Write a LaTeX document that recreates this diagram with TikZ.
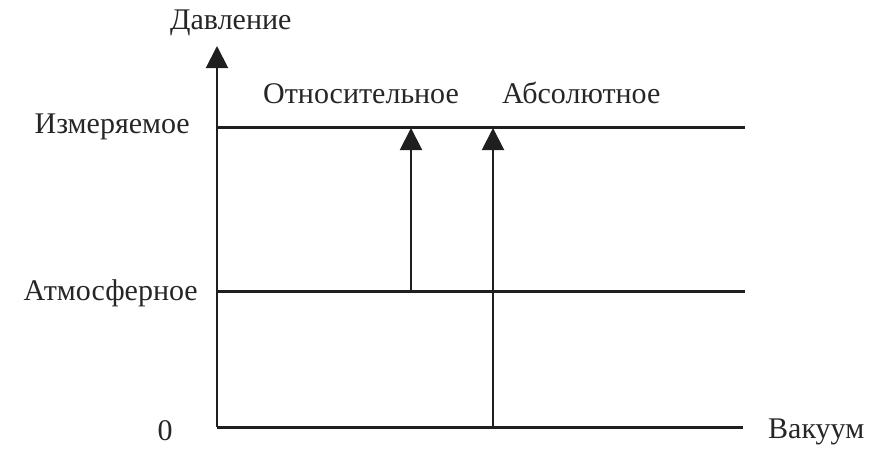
\documentclass[tikz,border=0pt]{standalone}
\usepackage{fontspec}
\setmainfont{Liberation Serif}
\usetikzlibrary{arrows.meta}
\colorlet{ecol}{black!88}
\tikzstyle{level}=[line width=3pt,ecol]
\tikzstyle{axis}=[line width=2pt,ecol,-{Triangle[length=22pt,width=22pt]}]
\tikzstyle{lab}=[font=\fontsize{30}{36}\selectfont,text=black!85,inner sep=0pt]

\begin{document}
\begin{tikzpicture}[x=1pt,y=-1pt]
			\useasboundingbox (0,0) rectangle (888,474);
			% axis and levels
			\coordinate (o)    at (217, 427);
			\coordinate (top)  at (217,  46);
			\coordinate (m0)   at (217, 127);
			\coordinate (m1)   at (745, 127);
			\coordinate (a0)   at (217, 291);
			\coordinate (a1)   at (745, 291);
			\coordinate (z1)   at (743, 427);
			% gauges
			\coordinate (rel0) at (411, 291);
			\coordinate (rel1) at (411, 128);
			\coordinate (abs0) at (493, 427);
			\coordinate (abs1) at (493, 128);

			%%% Levels
			\draw[level] (m0)edge(m1) (a0)edge(a1) (o)edge(z1);

			%%% Arrows
			\draw[axis] (o) -- (top);
			\draw[axis] (rel0) -- (rel1);
			\draw[axis] (abs0) -- (abs1);

			%%% Labels
			\node[lab,anchor=base west] (lP)   at (170,  29) {Давление};
			\node[lab,anchor=base west] (lRel) at (263, 103) {Относительное};
			\node[lab,anchor=base west] (lAbs) at (502, 103) {Абсолютное};
			\node[lab,anchor=base east] (lM)   at (190, 133) {Измеряемое};
			\node[lab,anchor=base east] (lA)   at (198, 300) {Атмосферное};
			\node[lab,anchor=base]      (l0)   at (165, 440) {0};
			\node[lab,anchor=base west] (lV)   at (768, 438) {Вакуум};
		\end{tikzpicture}
\end{document}
